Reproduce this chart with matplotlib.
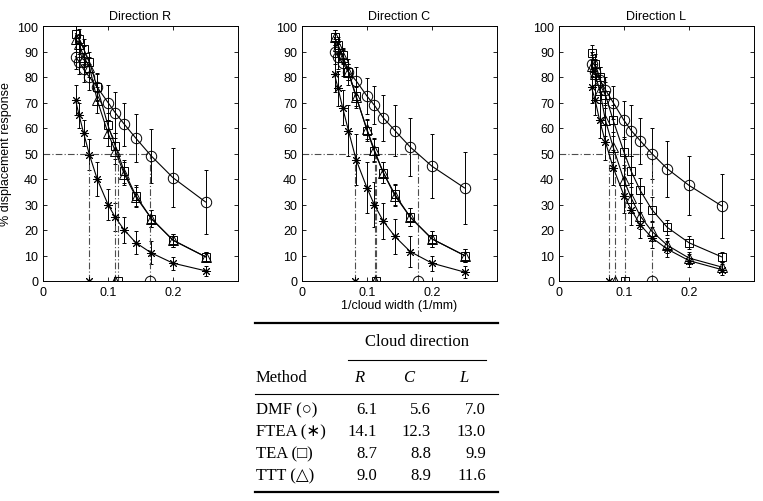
import numpy as np
import matplotlib
matplotlib.use('Agg')
import matplotlib.pyplot as plt
from matplotlib.lines import Line2D

# cloud widths 20 ... 4 mm -> x = 1/width
widths = [20, 18, 16, 14, 12, 10, 9, 8, 7, 6, 5, 4]
x = [1.0 / w for w in widths]

# Direction R
r_dmf = [88, 86, 83, 80, 76, 70, 66, 61.5, 56, 49, 40.5, 31]
r_dmf_err = [5, 5, 5, 5, 5.5, 7, 8, 8.5, 9.5, 10.5, 11.5, 12.5]
r_ftea = [71, 65, 58, 49.5, 40, 30, 25, 20, 15, 11, 7, 4]
r_ftea_err = [6, 5, 5, 6, 6.5, 6, 5.5, 5, 4.5, 4.5, 2.5, 2]
r_tea = [97, 95, 91, 86, 76, 61, 53, 43, 33.5, 24.5, 16, 9.5]
r_tea_err = [4, 4, 4, 4, 5, 5, 5, 4.5, 4, 3.5, 2.5, 2]
r_ttt = [95, 93, 88, 84, 71, 58, 51, 42, 33, 24.5, 16, 9.5]
r_ttt_err = [5, 4, 4, 4, 5, 5, 5, 4.5, 4, 3.5, 2.5, 2]

# Direction C
c_dmf = [90, 88, 85.5, 82, 78.5, 72.5, 69, 64, 59, 52.5, 45, 36.5]
c_dmf_err = [5, 5, 5, 5, 5.5, 7, 7.5, 9, 10, 11.5, 12.5, 14]
c_ftea = [81, 75.5, 68, 59, 47.5, 36.5, 30, 23.5, 17.5, 11.5, 7, 3.5]
c_ftea_err = [7, 7, 7, 10, 10, 10, 9, 7, 7, 6, 3, 2.5]
c_tea = [95.5, 92.5, 88.5, 82, 72.5, 59, 51, 42.5, 34, 25, 16.5, 10]
c_tea_err = [3, 3, 3, 3, 4, 4, 4.5, 4, 4, 3.5, 3, 2.5]
c_ttt = [95.5, 92, 88, 82, 72, 59.5, 51.5, 42.5, 33.5, 25, 16.5, 10]
c_ttt_err = [3, 3, 3, 3, 4, 4, 4.5, 4, 4, 3.5, 3, 2.5]

# Direction L
l_dmf = [85, 82, 79, 75, 70, 63, 59, 55, 50, 44, 37.5, 29.5]
l_dmf_err = [5, 5, 5, 5, 6.5, 7.5, 10, 9, 10, 11, 11.5, 12.5]
l_ftea = [76, 71, 63, 54.5, 44.5, 33.5, 28, 22, 17, 12.5, 8, 4.5]
l_ftea_err = [6, 6, 7, 7, 7, 7, 6, 5, 4, 3, 2.5, 2]
l_tea = [89.5, 85, 80, 73, 63, 50.5, 43, 35.5, 28, 21, 15, 9.5]
l_tea_err = [3, 4, 4, 5, 6, 6, 6, 5, 5, 3, 2.5, 2]
l_ttt = [84.5, 81, 75, 63, 52.5, 39.5, 32.5, 25.5, 19.5, 14, 9, 5.5]
l_ttt_err = [4, 4, 5, 6, 6, 6, 6, 5, 4, 3, 2.5, 2]

# 50% widths (mm) from the table
methods = ['DMF', 'FTEA', 'TEA', 'TTT']
symbols = ['\u25cb', '\u2217', '\u25a1', '\u25b3']
width50_r = [6.1, 14.1, 8.7, 9.0]
width50_c = [5.6, 12.3, 8.8, 8.9]
width50_l = [7.0, 13.0, 9.9, 11.6]

markers = ['o', (8, 2, 0), 's', '^']
msizes = [7.5, 6.5, 6, 7]

W, H = 763, 502


def plot_panel(ax, title, series, errs, width50):
    for y, e, m, ms in zip(series, errs, markers, msizes):
        ax.errorbar(x, y, yerr=e, color='k', lw=0.8, marker=m, ms=ms,
                    mfc='none', mec='k', mew=0.7, capsize=1.5,
                    elinewidth=0.7, capthick=0.7)
    # 50% crossings
    xs = [1.0 / w for w in width50]
    ax.plot([0, max(xs)], [50, 50], color='0.3', lw=0.8,
            ls=(0, (6, 2, 1, 2)))
    for xc, m, ms in zip(xs, markers, msizes):
        ax.plot([xc, xc], [0, 50], color='0.3', lw=0.8, ls=(0, (6, 2, 1, 2)))
        ax.plot([xc], [0], marker=m, ms=ms, mfc='none', mec='k', mew=0.7,
                color='k')
    ax.set_xlim(0, 0.3)
    ax.set_ylim(0, 100)
    ax.set_xticks([0, 0.1, 0.2])
    ax.set_xticklabels(['0', '0.1', '0.2'])
    ax.set_yticks(np.arange(0, 101, 10))
    ax.tick_params(direction='in', top=True, right=True, labelsize=9,
                   length=3, width=0.6)
    for s in ax.spines.values():
        s.set_linewidth(0.7)
    ax.set_title(title, fontsize=9, pad=5)


plt.rcParams['font.family'] = ['Liberation Sans', 'DejaVu Sans']
fig = plt.figure(figsize=(W / 100, H / 100), dpi=100)

lefts = [43, 302, 559]
pw = 195
ax_r = fig.add_axes([lefts[0] / W, 1 - 282 / H, pw / W, 255 / H])
ax_c = fig.add_axes([lefts[1] / W, 1 - 282 / H, pw / W, 255 / H])
ax_l = fig.add_axes([lefts[2] / W, 1 - 282 / H, pw / W, 255 / H])

plot_panel(ax_r, 'Direction R', [r_dmf, r_ftea, r_tea, r_ttt],
           [r_dmf_err, r_ftea_err, r_tea_err, r_ttt_err], width50_r)
plot_panel(ax_c, 'Direction C', [c_dmf, c_ftea, c_tea, c_ttt],
           [c_dmf_err, c_ftea_err, c_tea_err, c_ttt_err], width50_c)
plot_panel(ax_l, 'Direction L', [l_dmf, l_ftea, l_tea, l_ttt],
           [l_dmf_err, l_ftea_err, l_tea_err, l_ttt_err], width50_l)

ax_r.set_ylabel('% displacement response', fontsize=9, labelpad=4)
ax_c.set_xlabel('1/cloud width (1/mm)', fontsize=9, labelpad=1)

# table below the middle panel
serif = ['Liberation Serif', 'DejaVu Sans']


def fx(px):
    return px / W


def fy(py):
    return 1 - py / H


def hline(x0, x1, y, lw):
    fig.add_artist(Line2D([fx(x0), fx(x1)], [fy(y), fy(y)],
                          transform=fig.transFigure, color='k', lw=lw))


hline(255, 498, 324, 1.6)
hline(348, 486, 361, 0.8)
hline(255, 498, 395, 0.8)
hline(255, 498, 493, 1.6)

fs = 12
fig.text(fx(417), fy(342), 'Cloud direction', ha='center', va='center',
         family=serif, fontsize=fs)
fig.text(fx(256), fy(378), 'Method', ha='left', va='center',
         family=serif, fontsize=fs)
for lab, px in zip(['R', 'C', 'L'], [354, 403, 459]):
    fig.text(fx(px), fy(378), lab, ha='left', va='center', family=serif,
             style='italic', fontsize=fs)

row_y = [410, 432, 454, 476]
col_x = [377, 431, 486]
for i, (m, s) in enumerate(zip(methods, symbols)):
    fig.text(fx(256), fy(row_y[i]), m + ' (' + s + ')', ha='left',
             va='center', family=serif, fontsize=fs)
    for cx, vals in zip(col_x, [width50_r, width50_c, width50_l]):
        fig.text(fx(cx), fy(row_y[i]), '%.1f' % vals[i], ha='right',
                 va='center', family=serif, fontsize=fs)

fig.savefig('out.png', dpi=100)
